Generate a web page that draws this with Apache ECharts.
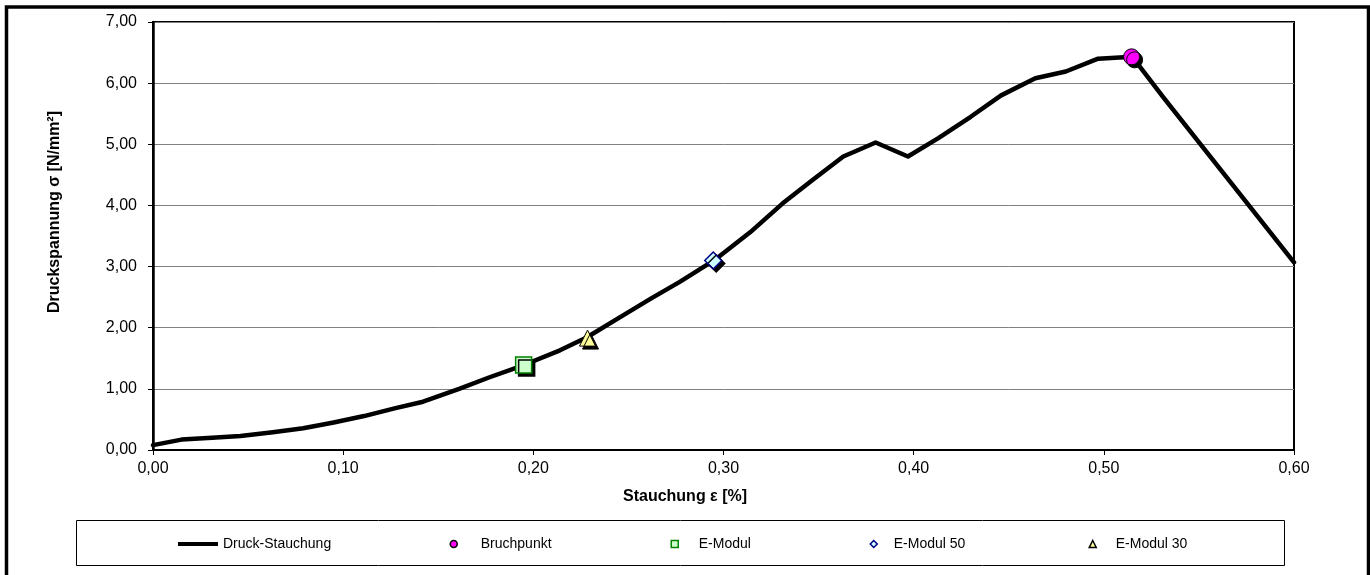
<!DOCTYPE html>
<html>
<head>
<meta charset="utf-8">
<script src="https://cdn.jsdelivr.net/npm/echarts@6/dist/echarts.min.js"></script>
<style>
html,body{margin:0;padding:0;background:#fff;}
#chart{width:1370px;height:575px;}
</style>
</head>
<body>
<div id="chart"></div>
<script>
// ---- data ----
const strainValues = [0.000, 0.015, 0.031, 0.046, 0.063, 0.079, 0.095, 0.111, 0.127, 0.142, 0.161, 0.177, 0.195, 0.214, 0.228, 0.245, 0.262, 0.277, 0.295, 0.314, 0.331, 0.347, 0.363, 0.380, 0.397, 0.413, 0.430, 0.446, 0.464, 0.480, 0.497, 0.515, 0.531, 0.600];
const stressValues = [0.08, 0.17, 0.20, 0.23, 0.29, 0.355, 0.45, 0.555, 0.68, 0.79, 1.00, 1.19, 1.39, 1.63, 1.84, 2.16, 2.48, 2.75, 3.10, 3.56, 4.03, 4.42, 4.80, 5.03, 4.80, 5.10, 5.45, 5.80, 6.08, 6.19, 6.40, 6.43, 5.78, 3.07];
const bruchpunkt = [0.5146, 6.43];
const eModul = [0.1949, 1.39];
const eModul50 = [0.2946, 3.10];
const eModul30 = [0.2285, 1.83];
const seriesNames = ['Druck-Stauchung', 'Bruchpunkt', 'E-Modul', 'E-Modul 50', 'E-Modul 30'];
const xTicks = [0, 0.1, 0.2, 0.3, 0.4, 0.5, 0.6];
const yTicks = [0, 1, 2, 3, 4, 5, 6, 7];
const xAxisTitle = 'Stauchung ε [%]';
const yAxisTitle = 'Druckspannung σ [N/mm²]';

const FONT = '"Liberation Sans", Arial, sans-serif';
const fmt = v => v.toFixed(2).replace('.', ',');
const lineData = strainValues.map((x, i) => [x, stressValues[i]]);
const shadow = {shadowColor: '#000', shadowBlur: 0, shadowOffsetX: 3, shadowOffsetY: 3, opacity: 1};

const ICON_CIRCLE = 'path://M0,5A5,5,0,1,1,10,5A5,5,0,1,1,0,5Z';
const ICON_SQUARE = 'path://M0,0L10,0L10,10L0,10Z';
const ICON_DIAMOND = 'path://M5,0L10,5L5,10L0,5Z';
const ICON_TRIANGLE = 'path://M5,0L10,10L0,10Z';

function legendAt(name, icon, left, width) {
  return {
    data: [{name: name, icon: icon}], left: left, top: 537, padding: 0,
    itemWidth: width, itemHeight: 7, selectedMode: false, symbolKeepAspect: true,
    textStyle: {fontSize: 14, color: '#000', fontFamily: FONT},
    itemStyle: {borderWidth: 1.5}
  };
}

const chart = echarts.init(document.getElementById('chart'), null, {renderer: 'canvas'});
chart.setOption({
  backgroundColor: '#fff',
  animation: false,
  grid: {left: 153, right: 76, top: 22, bottom: 125, show: true, borderColor: '#000', borderWidth: 2, backgroundColor: 'transparent'},
  xAxis: {
    type: 'value', min: xTicks[0], max: xTicks[xTicks.length - 1], interval: xTicks[1] - xTicks[0],
    axisLine: {show: true, onZero: false, lineStyle: {color: '#000', width: 2}},
    axisTick: {show: true, inside: false, length: 5, lineStyle: {color: '#000', width: 1}},
    splitLine: {show: false},
    axisLabel: {formatter: fmt, fontSize: 16, color: '#000', fontFamily: FONT, margin: 11}
  },
  yAxis: {
    type: 'value', min: yTicks[0], max: yTicks[yTicks.length - 1], interval: yTicks[1] - yTicks[0],
    axisLine: {show: true, onZero: false, lineStyle: {color: '#000', width: 2.5}},
    axisTick: {show: true, inside: false, length: 5, lineStyle: {color: '#000', width: 1}},
    splitLine: {show: true, lineStyle: {color: '#808080', width: 1}},
    axisLabel: {formatter: fmt, fontSize: 16, color: '#000', fontFamily: FONT, margin: 16}
  },
  legend: [
    {data: [{name: seriesNames[0], icon: 'rect'}], left: 178, top: 537, padding: 0, itemWidth: 40, itemHeight: 4, selectedMode: false,
     textStyle: {fontSize: 14, color: '#000', fontFamily: FONT}, itemStyle: {color: '#000', borderWidth: 0}},
    legendAt(seriesNames[1], ICON_CIRCLE, 449.5, 44),
    legendAt(seriesNames[2], ICON_SQUARE, 670.5, 38),
    legendAt(seriesNames[3], ICON_DIAMOND, 869.5, 30),
    legendAt(seriesNames[4], ICON_TRIANGLE, 1088.5, 36)
  ],
  graphic: [
    {type: 'rect', silent: true, z: 100, shape: {x: 6.5, y: 7, width: 1362, height: 620},
     style: {fill: 'none', stroke: '#000', lineWidth: 3.5}},
    {type: 'rect', silent: true, z: 1, shape: {x: 76.5, y: 520.5, width: 1208, height: 45},
     style: {fill: 'none', stroke: '#000', lineWidth: 1}},
    {type: 'text', silent: true, x: 55, y: 212, rotation: Math.PI / 2,
     style: {text: yAxisTitle, font: 'bold 16px ' + FONT, fill: '#000', textAlign: 'center', textVerticalAlign: 'middle'}},
    {type: 'text', silent: true, x: 685, y: 497,
     style: {text: xAxisTitle, font: 'bold 16px ' + FONT, fill: '#000', textAlign: 'center', textVerticalAlign: 'middle'}}
  ],
  series: [
    {name: seriesNames[0], type: 'line', data: lineData, symbol: 'none', showSymbol: false, z: 2,
     lineStyle: {color: '#000', width: 4.5, join: 'round', cap: 'round'}, itemStyle: {color: '#000'}},
    {name: seriesNames[1], type: 'scatter', data: [bruchpunkt], symbol: 'circle', symbolSize: 16, z: 6,
     itemStyle: Object.assign({color: '#FF00FF', borderColor: '#000', borderWidth: 1}, shadow)},
    {name: seriesNames[2], type: 'scatter', data: [eModul], symbol: 'rect', symbolSize: 16, z: 5,
     itemStyle: Object.assign({color: '#CCFFCC', borderColor: '#008000', borderWidth: 1.5}, shadow)},
    {name: seriesNames[3], type: 'scatter', data: [eModul50], symbol: 'diamond', symbolSize: 17, z: 5,
     itemStyle: Object.assign({color: '#CCFFFF', borderColor: '#000080', borderWidth: 1.5}, shadow)},
    {name: seriesNames[4], type: 'scatter', data: [eModul30], symbol: 'triangle', symbolSize: 16, z: 5,
     itemStyle: Object.assign({color: '#FFFF99', borderColor: '#000', borderWidth: 1}, shadow)}
  ]
});
</script>
</body>
</html>
